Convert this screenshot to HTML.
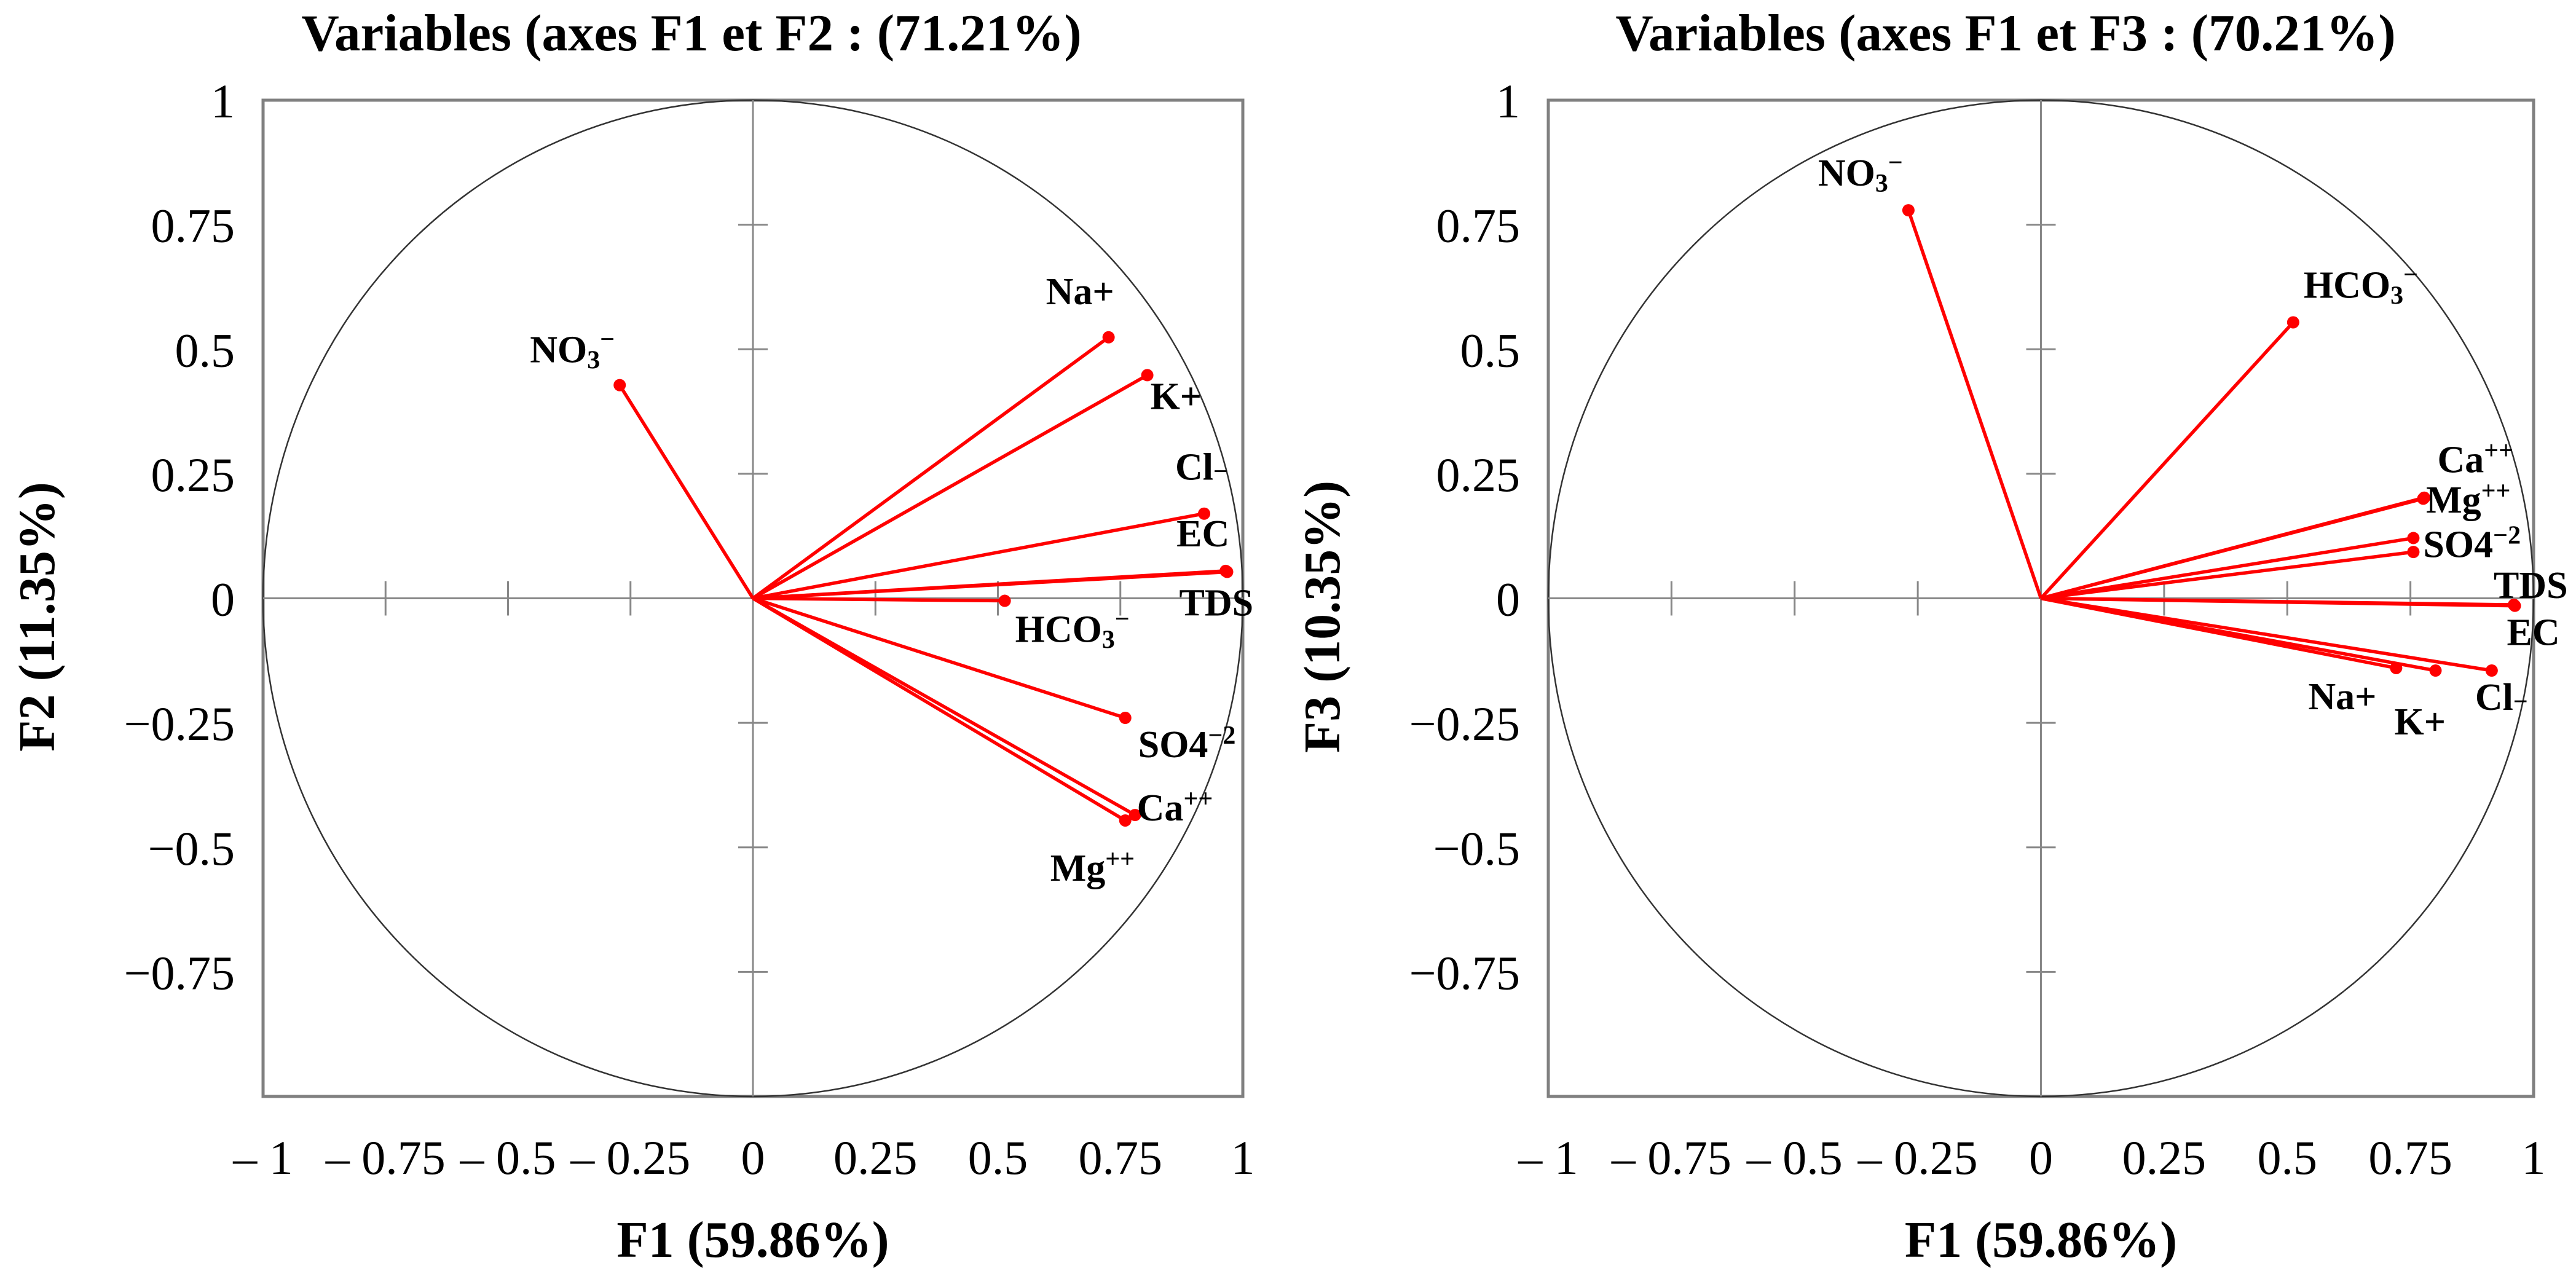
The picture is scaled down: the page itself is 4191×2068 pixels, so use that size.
<!DOCTYPE html>
<html><head><meta charset="utf-8"><style>
html,body{margin:0;padding:0;background:#fff;}
svg{display:block;font-family:"Liberation Serif",serif;}
</style></head><body>
<svg id="chart" width="4191" height="2068" viewBox="0 0 4191 2068" xmlns="http://www.w3.org/2000/svg"></svg>
<script>
const ticks = [-1,-0.75,-0.5,-0.25,0,0.25,0.5,0.75,1];
const xTickLabels = ["– 1","– 0.75","– 0.5","– 0.25","0","0.25","0.5","0.75","1"];
const yTickLabels = ["1","0.75","0.5","0.25","0","−0.25","−0.5","−0.75",""];
const vars1 = ["NO3","Na+","K+","Cl-","EC","TDS","HCO3","SO4","Ca++","Mg++"];
const f1a = [-0.272,0.726,0.805,0.921,0.965,0.968,0.514,0.760,0.780,0.760];
const f2a = [0.428,0.524,0.448,0.170,0.055,0.053,-0.005,-0.240,-0.435,-0.446];
const vars2 = ["NO3","HCO3","Ca++","Mg++","SO4","SO4b","TDS","EC","Na+","K+","Cl-"];
const f1b = [-0.269,0.512,0.776,0.778,0.756,0.756,0.960,0.962,0.721,0.801,0.915];
const f3b = [0.779,0.554,0.200,0.202,0.121,0.093,-0.013,-0.015,-0.140,-0.145,-0.145];

const NS="http://www.w3.org/2000/svg";
const svg=document.getElementById('chart');
function mk(tag,attrs,parent){const e=document.createElementNS(NS,tag);for(const k in attrs)e.setAttribute(k,attrs[k]);(parent||svg).appendChild(e);return e;}

const labelHTML={
 "NO3":'NO<tspan font-size="42" dy="10">3</tspan><tspan font-size="42" dy="-34">−</tspan>',
 "HCO3":'HCO<tspan font-size="42" dy="10">3</tspan><tspan font-size="42" dy="-34">−</tspan>',
 "Na+":'Na+',"K+":'K+',"Cl-":'Cl<tspan font-size="42">−</tspan>',"EC":'EC',"TDS":'TDS',
 "SO4":'SO4<tspan font-size="42" dy="-22">−2</tspan>',
 "Ca++":'Ca<tspan font-size="42" dy="-22">++</tspan>',
 "Mg++":'Mg<tspan font-size="42" dy="-22">++</tspan>',"SO4b":''
};
const off1={"NO3":[-146,-37],"Na+":[-102,-54],"K+":[5,55],"Cl-":[-47,-55],"EC":[-80,-40],"TDS":[-78,71],"HCO3":[17,67],"SO4":[21,64],"Ca++":[3,9],"Mg++":[-122,98]};
const off2={"NO3":[-147,-40],"HCO3":[17,-40],"Ca++":[23,-43],"Mg++":[3,24],"SO4":[16,31],"SO4b":[0,0],"TDS":[-33,-11],"EC":[-13,64],"Na+":[-143,67],"K+":[-67,104],"Cl-":[-27,64]};

function panel(id,ox,L,R,T,B,titleX,title,ylab,names,xs,ys,offs){
 const g=mk('g',{});
 
 
 const cx=(L+R)/2, cy=(T+B)/2, sx=(R-L)/2, sy=(B-T)/2;
 const X=v=>cx+v*sx, Y=v=>cy-v*sy;
 const t=mk('text',{x:titleX,y:82,'text-anchor':'middle','font-size':'85','font-weight':'bold'},g);
 t.textContent=title;
 
 
 const fr=mk('rect',{x:L,y:T,width:R-L,height:B-T,fill:'none',stroke:'#808080','stroke-width':5},g);
 
 
 const c=mk('ellipse',{cx:cx,cy:cy,rx:sx,ry:sy,fill:'none',stroke:'#333','stroke-width':2.5},g);
 
 
 mk('line',{x1:L,y1:cy,x2:R,y2:cy,stroke:'#888','stroke-width':3},g);
 mk('line',{x1:cx,y1:T,x2:cx,y2:B,stroke:'#888','stroke-width':3},g);
 ticks.forEach((v,i)=>{
  if(v!==0&&Math.abs(v)!==1){
   mk('line',{x1:X(v),y1:cy-28,x2:X(v),y2:cy+28,stroke:'#888','stroke-width':3},g);
   mk('line',{x1:cx-24,y1:Y(v),x2:cx+24,y2:Y(v),stroke:'#888','stroke-width':3},g);
  }
  const xt=mk('text',{x:X(v),y:1910,'text-anchor':'middle','font-size':'78'},g);
  xt.textContent=xTickLabels[i];
  
  
  const yt=mk('text',{x:ox+382,y:Y(-v)+28,'text-anchor':'end','font-size':'78'},g);
  yt.textContent=yTickLabels[i];
  
  
 });
 const xl=mk('text',{x:cx,y:2045,'text-anchor':'middle','font-size':'84','font-weight':'bold'},g);
 xl.textContent='F1 (59.86%)';
 
 
 const yl=mk('text',{x:0,y:0,'text-anchor':'middle','font-size':'84','font-weight':'bold',transform:`translate(${ox+88},${cy+30}) rotate(-90)`},g);
 yl.textContent=ylab;
 
 
 names.forEach((n,i)=>{
  const px=X(xs[i]), py=Y(ys[i]);
  const ln=mk('line',{x1:cx,y1:cy,x2:px,y2:py,stroke:'#ff0000','stroke-width':5.5},g);
  
  
  const d=mk('circle',{cx:px,cy:py,r:10,fill:'#ff0000'},g);
  
  
  if(labelHTML[n]){
   const o=offs[n];
   const tx=mk('text',{x:px+o[0],y:py+o[1],'font-size':'62','font-weight':'bold'},g);
   tx.innerHTML=labelHTML[n];
   
   
  }
 });
}
panel('panel-f1-f2',0,428,2022,163,1784,1125,'Variables (axes  F1 et F2 : (71.21%)','F2 (11.35%)',vars1,f1a,f2a,off1);
panel('panel-f1-f3',2091,2519,4122,163,1784,3263,'Variables (axes  F1 et F3 : (70.21%)','F3 (10.35%)',vars2,f1b,f3b,off2);
</script>
</body></html>
